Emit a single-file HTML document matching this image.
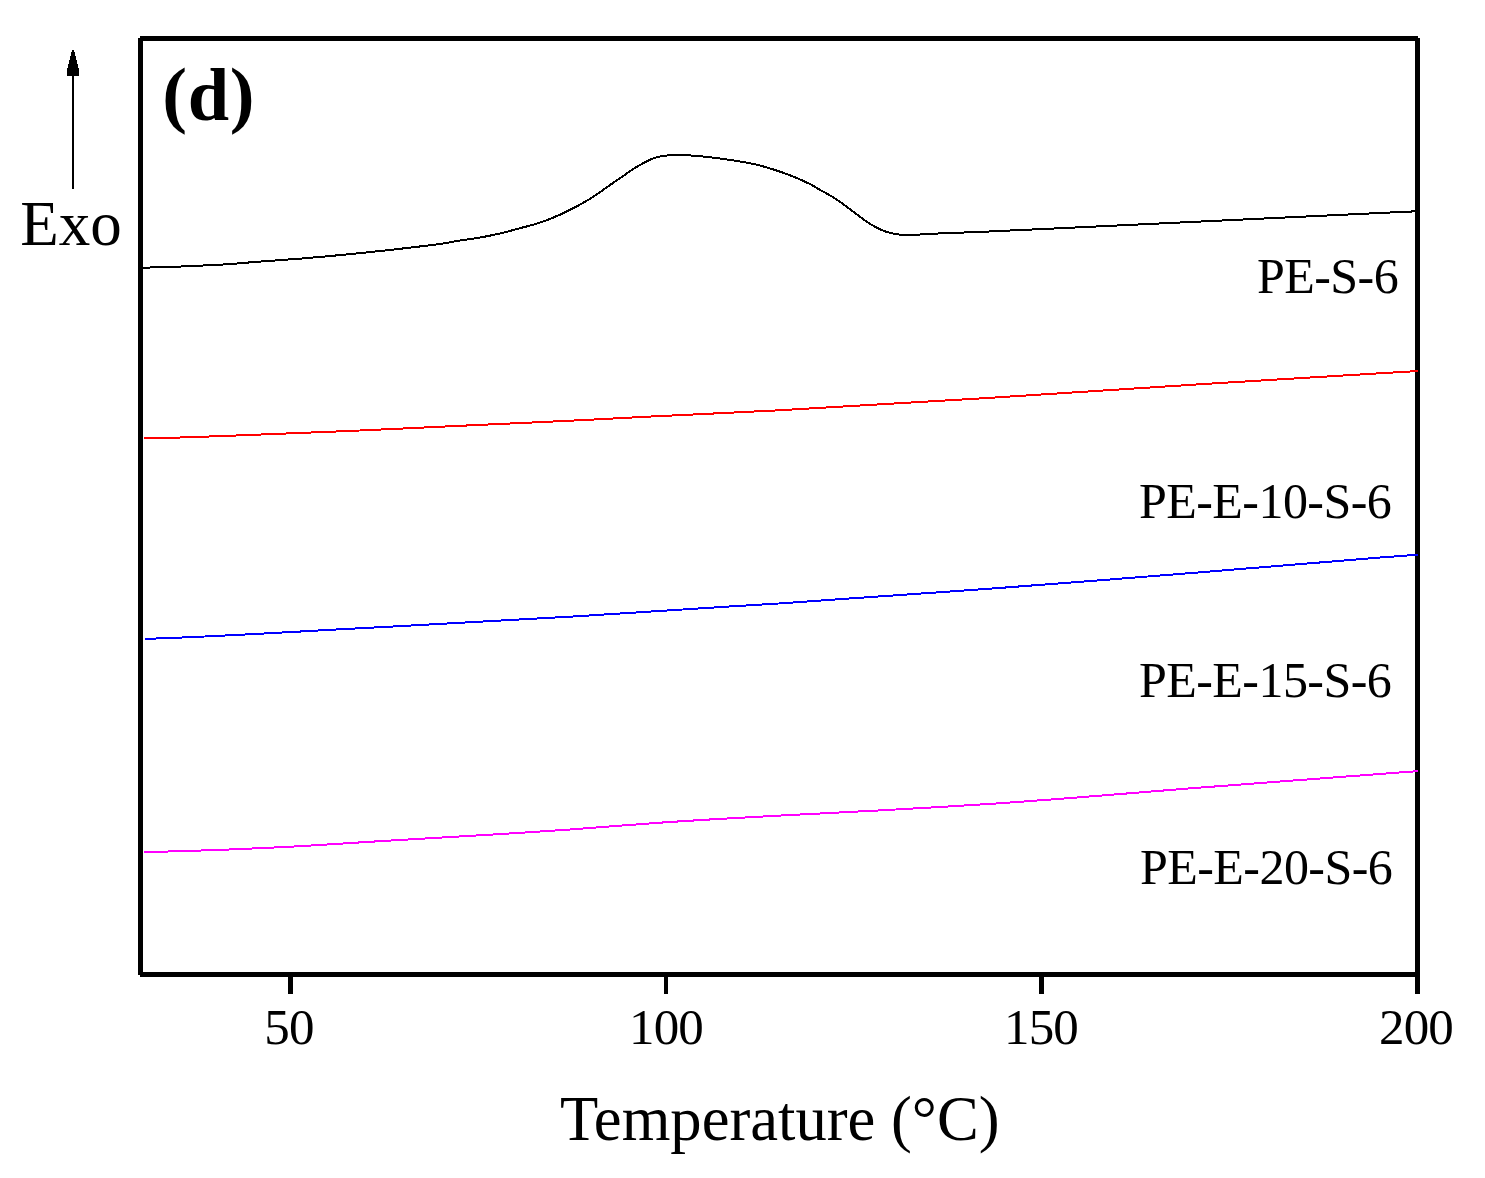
<!DOCTYPE html>
<html lang="en">
<head>
<meta charset="utf-8">
<title>DSC curves (d)</title>
<style>
  html, body { margin: 0; padding: 0; background: #ffffff; }
  body { width: 1485px; height: 1178px; overflow: hidden; position: relative; }
  svg { position: absolute; left: 0; top: 0; display: block; }
  text { font-family: "Liberation Serif", "Times New Roman", serif; fill: #000; }
  .t50 { font-size: 50px; letter-spacing: -0.55px; }
  .t62 { font-size: 62px; }
  .tick { font-size: 51px; letter-spacing: -0.8px; }
  .bold { font-size: 74.4px; font-weight: bold; }
  .crisp { shape-rendering: crispEdges; }
  .curve { fill: none; stroke-width: 2; stroke-linejoin: round; shape-rendering: crispEdges; }
</style>
</head>
<body>
<svg width="1485" height="1178" viewBox="0 0 1485 1178">
  <rect x="0" y="0" width="1485" height="1178" fill="#ffffff"/>

  <!-- frame -->
  <g class="crisp" fill="#000000">
    <rect x="138" y="38" width="5" height="937"/>
    <rect x="140" y="36" width="1278" height="5"/>
    <rect x="1415" y="38" width="5" height="956"/>
    <rect x="140" y="972" width="1280" height="5"/>
    <!-- ticks -->
    <rect x="288" y="975" width="5" height="19"/>
    <rect x="664" y="975" width="4" height="19"/>
    <rect x="1039" y="975" width="5" height="19"/>
  </g>

  <!-- curves -->
  <path class="curve" stroke="#000000" d="M142.5,268.00 C145.0,267.83 147.5,267.65 150.0,267.50 C160.3,266.88 170.7,266.91 181.0,266.50 C188.3,266.21 195.7,265.85 203.0,265.50 C209.7,265.18 216.3,264.90 223.0,264.50 C235.7,263.74 248.3,262.46 261.0,261.50 C274.7,260.46 288.3,259.62 302.0,258.50 C315.3,257.41 328.7,256.18 342.0,254.90 C355.3,253.62 368.7,252.25 382.0,250.80 C395.7,249.32 409.3,247.75 423.0,246.10 C428.7,245.41 434.3,244.83 440.0,244.00 C446.7,243.02 453.5,241.58 460.2,240.50 C466.9,239.42 473.7,238.70 480.4,237.50 C487.1,236.30 493.9,234.88 500.6,233.30 C507.3,231.72 514.1,229.83 520.8,228.00 C527.5,226.17 534.3,224.61 541.0,222.30 C547.6,220.03 554.2,217.33 560.8,214.30 C563.9,212.88 567.0,211.36 570.1,209.80 C573.5,208.10 576.8,206.37 580.2,204.50 C583.6,202.63 586.9,200.72 590.3,198.60 C593.7,196.48 597.0,194.12 600.4,191.80 C603.8,189.48 607.1,187.03 610.5,184.70 C613.9,182.37 617.2,180.13 620.6,177.80 C624.0,175.47 627.3,172.92 630.7,170.70 C634.1,168.48 637.4,166.38 640.8,164.50 C644.2,162.62 647.5,160.78 650.9,159.40 C654.3,158.02 657.6,156.90 661.0,156.20 C664.4,155.50 667.7,155.42 671.1,155.20 C673.9,155.02 676.8,154.90 679.6,154.90 C684.4,154.89 689.1,155.34 693.9,155.70 C699.3,156.11 704.7,156.68 710.1,157.30 C715.5,157.92 720.9,158.63 726.3,159.40 C730.9,160.05 735.4,160.72 740.0,161.50 C745.4,162.42 750.8,163.33 756.2,164.60 C761.6,165.86 766.9,167.42 772.3,169.10 C778.2,170.95 784.1,172.99 790.0,175.30 C793.4,176.62 796.7,178.02 800.1,179.50 C803.5,180.98 806.8,182.45 810.2,184.20 C813.6,185.95 816.9,188.10 820.3,190.00 C823.7,191.90 827.0,193.57 830.4,195.60 C833.8,197.63 837.1,199.87 840.5,202.20 C843.9,204.53 847.2,207.08 850.6,209.60 C854.0,212.12 857.3,214.85 860.7,217.30 C864.1,219.75 867.4,222.23 870.8,224.30 C874.2,226.37 877.5,228.22 880.9,229.70 C884.3,231.18 887.6,232.37 891.0,233.20 C894.4,234.03 897.7,234.43 901.1,234.70 C903.9,234.93 906.8,234.91 909.6,234.90 C913.1,234.88 916.5,234.66 920.0,234.50 C924.6,234.28 929.3,233.92 933.9,233.70 C939.3,233.44 944.7,233.32 950.1,233.10 C955.5,232.88 960.9,232.61 966.3,232.40 C970.9,232.22 975.4,232.07 980.0,231.90 C1020.0,230.40 1060.0,228.18 1100.0,226.30 C1150.0,223.95 1200.0,221.57 1250.0,219.20 C1306.0,216.54 1362.0,213.87 1418.0,211.20"/>
  <path class="curve" stroke="#ff0000" d="M144.0,438.40 C156.2,438.10 168.3,437.85 180.5,437.50 C207.5,436.73 234.4,435.55 261.4,434.50 C278.1,433.85 294.8,433.18 311.5,432.50 C327.5,431.85 343.6,431.19 359.6,430.50 C393.1,429.05 426.5,427.35 460.0,425.80 C491.1,424.36 522.2,422.99 553.3,421.50 C567.0,420.84 580.8,420.19 594.5,419.50 C613.5,418.55 632.5,417.48 651.5,416.50 C693.3,414.35 735.2,412.60 777.0,410.40 C848.0,406.67 919.0,402.19 990.0,397.80 C1061.3,393.39 1132.7,388.47 1204.0,384.00 C1275.3,379.53 1346.7,375.33 1418.0,371.00"/>
  <path class="curve" stroke="#0000ff" d="M145.0,638.90 C157.3,638.43 169.7,638.00 182.0,637.50 C240.3,635.15 298.7,631.51 357.0,628.40 C428.0,624.61 499.0,620.97 570.0,616.70 C623.1,613.51 676.2,609.77 729.3,606.50 C745.7,605.49 762.2,604.58 778.6,603.50 C797.3,602.27 816.0,600.82 834.7,599.50 C886.5,595.83 938.2,592.48 990.0,588.70 C1061.3,583.48 1132.7,577.69 1204.0,572.00 C1271.7,566.61 1339.3,560.45 1407.0,555.50 C1410.7,555.23 1414.3,554.97 1418.0,554.70"/>
  <path class="curve" stroke="#ff00ff" d="M144.0,852.20 C152.1,851.97 160.3,851.74 168.4,851.50 C179.4,851.18 190.5,850.87 201.5,850.50 C210.8,850.19 220.1,849.86 229.4,849.50 C252.9,848.58 276.5,847.51 300.0,846.20 C319.0,845.14 338.0,843.79 357.0,842.60 C428.0,838.14 499.0,834.55 570.0,829.50 C602.7,827.18 635.3,824.31 668.0,822.10 C704.3,819.65 740.7,817.70 777.0,815.70 C810.7,813.85 844.3,812.35 878.0,810.50 C915.3,808.45 952.7,806.34 990.0,803.90 C1061.3,799.24 1132.7,792.77 1204.0,787.30 C1275.3,781.83 1346.7,776.50 1418.0,771.10"/>

  <!-- arrow -->
  <g class="crisp" fill="#000000">
    <rect x="72" y="70" width="2" height="118.5"/>
  </g>
  <polygon class="crisp" points="72,50 74,50 79.2,71 79.2,76 66.8,76 66.8,71" fill="#000000"/>

  <!-- text -->
  <text class="bold" x="162.3" y="120" style="letter-spacing:0.7px"><tspan dy="-0.9">(</tspan><tspan dy="0.9">d</tspan><tspan dy="-0.9">)</tspan></text>
  <text class="t62" style="font-size:63px" x="20.3" y="245.4">Exo</text>

  <text class="t50" x="1257" y="293.3">PE-S-6</text>
  <text class="t50" x="1139" y="518.2">PE-E-10-S-6</text>
  <text class="t50" x="1139" y="696.5">PE-E-15-S-6</text>
  <text class="t50" x="1140" y="884">PE-E-20-S-6</text>

  <text class="tick" x="288.9" y="1043.7" text-anchor="middle">50</text>
  <text class="tick" x="666" y="1043.7" text-anchor="middle">100</text>
  <text class="tick" x="1041" y="1043.7" text-anchor="middle">150</text>
  <text class="tick" x="1416" y="1043.7" text-anchor="middle">200</text>

  <text class="t62" style="font-size:62.6px" x="560" y="1140.1">Temperature (°C)</text>
</svg>
</body>
</html>
